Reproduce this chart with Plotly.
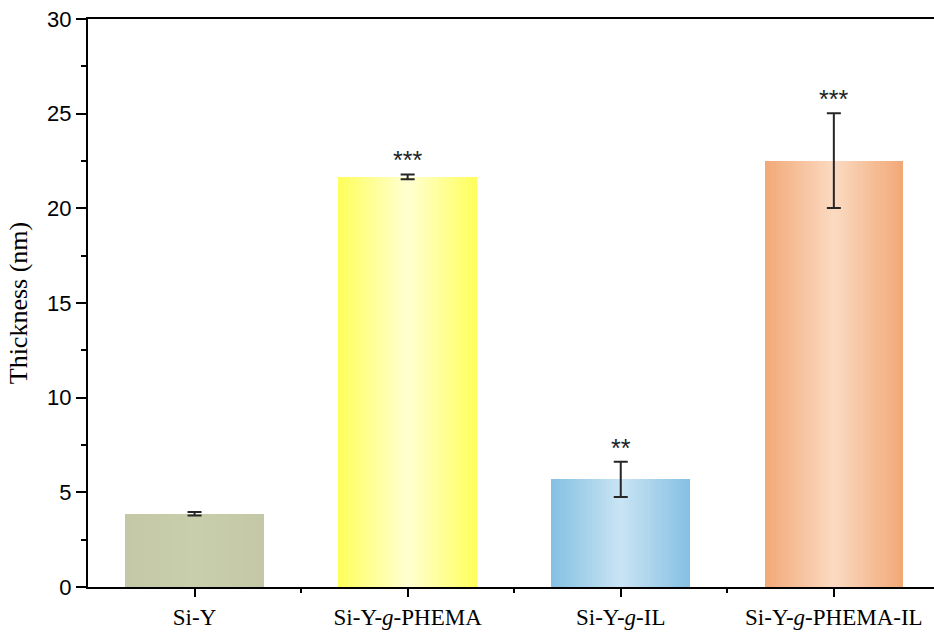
import plotly.graph_objects as go

# Film thickness of the four surfaces
samples = ["Si-Y", "Si-Y-<i>g</i>-PHEMA", "Si-Y-<i>g</i>-IL", "Si-Y-<i>g</i>-PHEMA-IL"]
thickness = [3.87, 21.66, 5.68, 22.52]
thickness_err = [0.09, 0.13, 0.93, 2.5]
significance = ["", "***", "**", "***"]

# Edge and centre colour of each bar's horizontal shading
edge_colors = [(196, 200, 166), (255, 255, 94), (134, 193, 227), (242, 169, 120)]
center_colors = [(200, 205, 172), (255, 255, 208), (200, 227, 243), (250, 217, 192)]

bar_width = 0.65
steps = 24
xpos = list(range(len(samples)))

fig = go.Figure()

# Stack of overlaid bars, narrowing and lightening toward the centre
for k in range(steps):
    t = k / (steps - 1)
    w = bar_width * (1 - k / steps)
    cols = []
    for e, c in zip(edge_colors, center_colors):
        r, g, b = (round(e[j] + (c[j] - e[j]) * t) for j in range(3))
        cols.append(f"rgb({r},{g},{b})")
    fig.add_trace(go.Bar(
        x=xpos, y=thickness, width=[w] * len(samples),
        marker=dict(color=cols, line=dict(width=0)),
        hoverinfo="skip", showlegend=False,
    ))

# Error bars drawn on top
fig.add_trace(go.Scatter(
    x=xpos, y=thickness, mode="markers",
    marker=dict(size=0.1, color="rgba(0,0,0,0)"),
    error_y=dict(type="data", array=thickness_err, visible=True,
                 color="#262626", thickness=2, width=7),
    showlegend=False,
))

for i, s in enumerate(significance):
    if s:
        fig.add_annotation(
            x=i, y=thickness[i] + thickness_err[i], text=s,
            showarrow=False, yanchor="bottom", yshift=-2,
            font=dict(family="Liberation Sans", size=25, color="#222"),
        )

fig.update_layout(
    width=934, height=633,
    margin=dict(l=88, r=0, t=19, b=46),
    paper_bgcolor="white", plot_bgcolor="white",
    barmode="overlay", bargap=0,
    showlegend=False,
)

fig.update_xaxes(
    range=[-0.5, 3.47],
    tickmode="array", tickvals=xpos, ticktext=samples,
    ticks="outside", ticklen=8, tickwidth=2, tickcolor="black",
    minor=dict(tickmode="array", tickvals=[0.5, 1.5, 2.5], ticks="outside",
               ticklen=4, tickwidth=2, tickcolor="black"),
    showline=True, linecolor="black", linewidth=2, mirror=True,
    showgrid=False, zeroline=False,
    tickfont=dict(family="Liberation Serif", size=23, color="black"),
)

fig.update_yaxes(
    range=[0, 30], dtick=5, tick0=0,
    ticks="outside", ticklen=10, tickwidth=2, tickcolor="black",
    minor=dict(dtick=2.5, ticks="outside", ticklen=5, tickwidth=2,
               tickcolor="black"),
    showline=True, linecolor="black", linewidth=2,
    showgrid=False, zeroline=False,
    tickfont=dict(family="Liberation Sans", size=22, color="black"),
    title=dict(text="Thickness (nm)", standoff=12,
               font=dict(family="Liberation Serif", size=26, color="black")),
)

fig.write_html("out.html")
